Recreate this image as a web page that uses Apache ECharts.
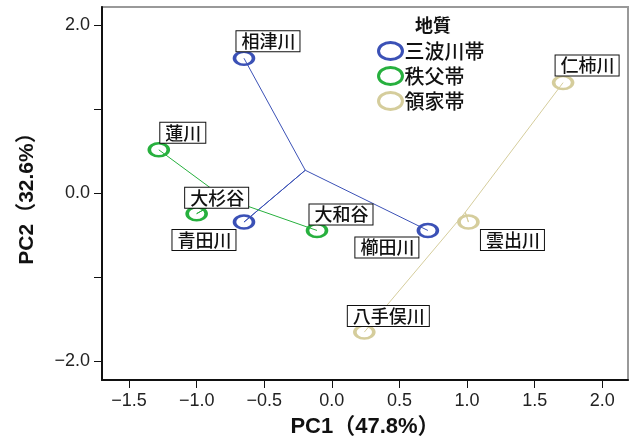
<!DOCTYPE html>
<html lang="ja">
<head>
    <meta charset="UTF-8">
    <title>PCA 地質</title>
    <script src="https://cdn.jsdelivr.net/npm/echarts@6/dist/echarts.min.js"></script>
    <style>
        body { margin: 0; background: #fff; }
        #root { width: 633px; height: 443px; }
    </style>
</head>
<body>
    <div id="root"></div>
    <script>
        // 地点ごとの主成分得点
        var sites = ['相津川', '青田川', '櫛田川', '蓮川', '大杉谷', '大和谷', '仁柿川', '雲出川', '八手俣川'];
        var pc1 = [-0.65, -0.65, 0.71, -1.28, -1.00, -0.11, 1.71, 1.01, 0.24];
        var pc2 = [1.61, -0.34, -0.44, 0.52, -0.24, -0.44, 1.32, -0.34, -1.65];
        var geology = ['三波川帯', '三波川帯', '三波川帯', '秩父帯', '秩父帯', '秩父帯', '領家帯', '領家帯', '領家帯'];
        var groups = ['三波川帯', '秩父帯', '領家帯'];

        var xTicks = [-1.5, -1.0, -0.5, 0.0, 0.5, 1.0, 1.5, 2.0];
        var yTicks = [-2, -1, 0, 1, 2];
        var yTickLabels = [-2, 0, 2];

        var colors = { '三波川帯': '#3b51b6', '秩父帯': '#27b03e', '領家帯': '#d5cd9c' };

        // ラベルの位置（点からのずれ, px）
        var labelOffset = {
            '相津川': [24, -17], '青田川': [-40, 18], '櫛田川': [-41, 17],
            '蓮川': [24, -17], '大杉谷': [20, -16], '大和谷': [24, -16],
            '仁柿川': [24, -17], '雲出川': [44, 18], '八手俣川': [24, -16]
        };

        var ring = 'path://M0,10A10,10 0 1,1 20,10A10,10 0 1,1 0,10Z';
        var numFmt = function (v) {
            return (v < 0 ? '\u2212' : '') + Math.abs(v).toFixed(1);
        };
        var latin = "'Liberation Sans', 'Noto Sans CJK JP', sans-serif";
        var cjk = "'Noto Sans CJK JP', sans-serif";

        var series = [];

        // 重心から各点への線
        groups.forEach(function (g) {
            var pts = [];
            for (var i = 0; i < sites.length; i++) {
                if (geology[i] === g) pts.push([pc1[i], pc2[i]]);
            }
            var cx = 0, cy = 0;
            pts.forEach(function (p) { cx += p[0]; cy += p[1]; });
            cx /= pts.length; cy /= pts.length;
            var path = [];
            pts.forEach(function (p, k) {
                if (k > 0) path.push([cx, cy]);
                path.push(p);
            });
            series.push({
                name: g + '_line',
                type: 'line',
                data: path,
                symbol: 'none',
                silent: true,
                z: 1,
                lineStyle: { color: colors[g], width: 1 }
            });
        });

        // 点
        groups.forEach(function (g) {
            var data = [];
            for (var i = 0; i < sites.length; i++) {
                if (geology[i] !== g) continue;
                data.push({
                    name: sites[i],
                    value: [pc1[i], pc2[i]],
                    label: { offset: labelOffset[sites[i]] }
                });
            }
            series.push({
                name: g,
                type: 'scatter',
                data: data,
                symbol: ring,
                symbolSize: [19, 13],
                symbolKeepAspect: false,
                z: 3,
                itemStyle: { color: 'rgba(0,0,0,0)', borderColor: colors[g], borderWidth: 3, opacity: 1 },
                label: {
                    show: true,
                    position: 'inside',
                    formatter: '{b}',
                    fontFamily: cjk,
                    fontSize: 18,
                    fontWeight: 500,
                    color: '#111',
                    backgroundColor: '#fff',
                    borderColor: '#111',
                    borderWidth: 1,
                    padding: [1, 4, 0, 5],
                    lineHeight: 19
                }
            });
        });

        var chart = echarts.init(document.getElementById('root'));
        chart.setOption({
            animation: false,
            title: {
                text: '地質',
                left: 410,
                top: 11,
                textStyle: { fontFamily: cjk, fontSize: 18, fontWeight: 'bold', color: '#111' }
            },
            legend: {
                data: groups,
                orient: 'vertical',
                left: 372,
                top: 36,
                itemWidth: 24,
                itemHeight: 17,
                itemGap: 5,
                icon: ring,
                symbolKeepAspect: false,
                itemStyle: { borderWidth: 3 },
                textStyle: { fontFamily: cjk, fontSize: 20, fontWeight: 500, color: '#111', padding: [0, 0, 0, -3] }
            },
            grid: {
                left: 102, right: 5, top: 7, bottom: 60,
                show: true,
                borderColor: '#999',
                borderWidth: 2
            },
            xAxis: {
                type: 'value',
                min: -1.7,
                max: 2.19,
                name: 'PC1（47.8%）',
                nameLocation: 'middle',
                nameGap: 36,
                nameTextStyle: { fontFamily: latin, fontSize: 22, fontWeight: 'bold', color: '#111' },
                splitLine: { show: false },
                axisLine: { onZero: false, lineStyle: { color: '#111', width: 2 } },
                axisTick: { length: 8, customValues: xTicks, lineStyle: { color: '#111', width: 1 } },
                axisLabel: {
                    customValues: xTicks,
                    formatter: numFmt,
                    fontFamily: latin,
                    fontSize: 18,
                    color: '#222',
                    margin: 12
                }
            },
            yAxis: {
                type: 'value',
                min: -2.22,
                max: 2.22,
                name: 'PC2（32.6%）',
                nameLocation: 'middle',
                nameGap: 64,
                nameTextStyle: { fontFamily: latin, fontSize: 21, fontWeight: 'bold', color: '#111' },
                splitLine: { show: false },
                axisLine: { onZero: false, lineStyle: { color: '#111', width: 2 } },
                axisTick: { length: 8, customValues: yTicks, lineStyle: { color: '#111', width: 1 } },
                axisLabel: {
                    customValues: yTickLabels,
                    formatter: numFmt,
                    fontFamily: latin,
                    fontSize: 18,
                    color: '#222',
                    margin: 12
                }
            },
            series: series
        });
    </script>
</body>
</html>
